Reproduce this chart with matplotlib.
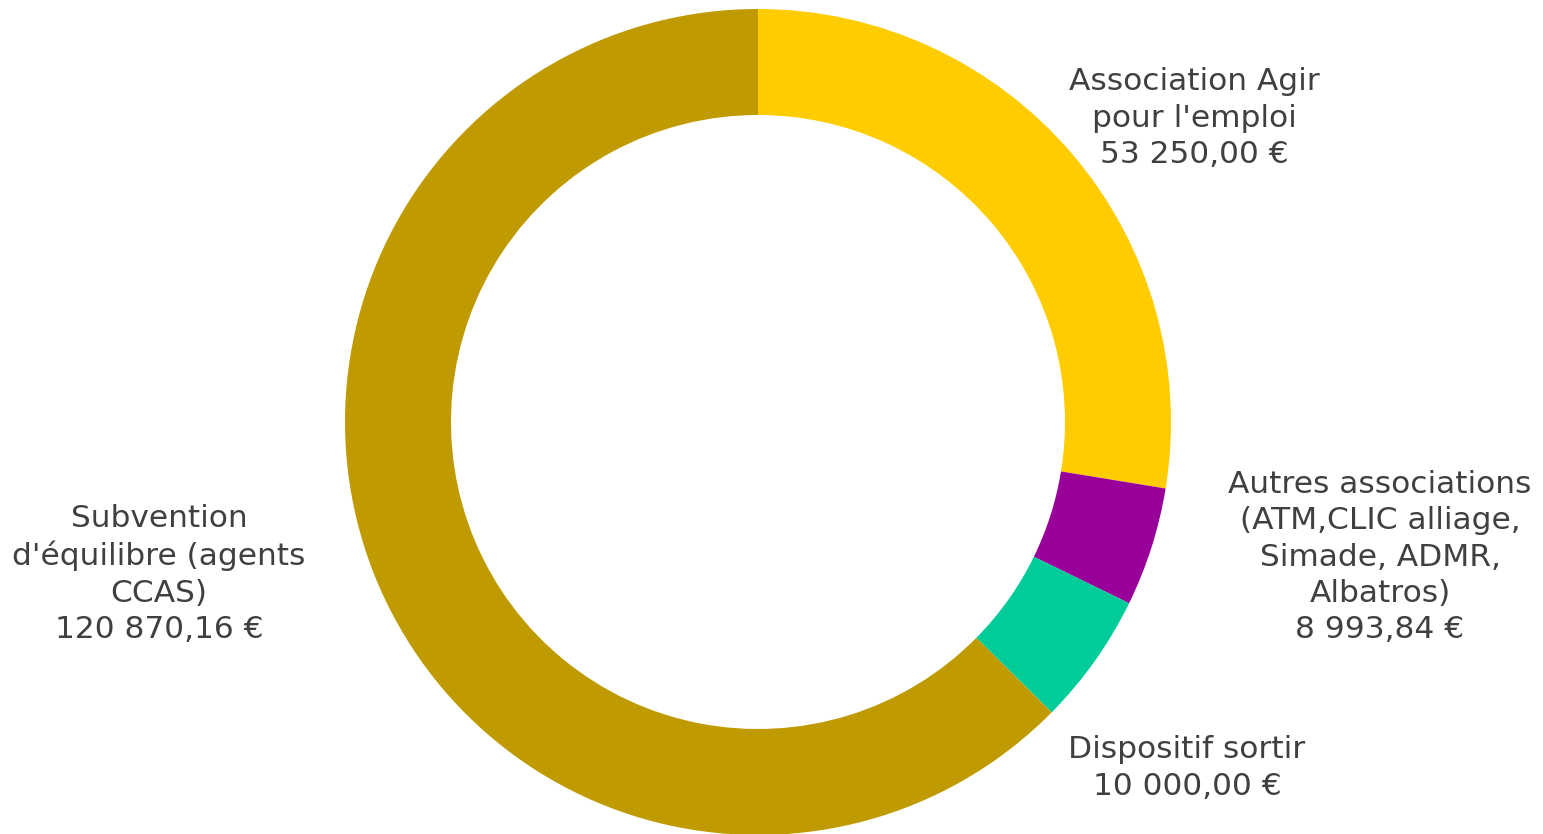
import numpy as np
import matplotlib.pyplot as plt

labels = ["Association Agir\npour l'emploi",
          "Autres associations\n(ATM,CLIC alliage,\nSimade, ADMR,\nAlbatros)",
          "Dispositif sortir",
          "Subvention\nd'équilibre (agents\nCCAS)"]
values = [53250.00, 8993.84, 10000.00, 120870.16]
colors = ["#FFCC00", "#990099", "#00CC99", "#BF9A00"]

# label anchor points (figure pixels, origin bottom-left)
label_pos = [(1194, 716), (1380, 277), (1187, 66), (159, 260)]


def fmt_eur(v):
    s = f"{v:,.2f}".replace(",", " ").replace(".", ",")
    return s + " €"


fig = plt.figure(figsize=(15.43, 8.34), dpi=100)
ax = fig.add_axes([0, 0, 1, 1])

ax.pie(values, colors=colors, startangle=90, counterclock=False,
       center=(758, 412), radius=413, frame=True,
       wedgeprops=dict(width=106, linewidth=0))
ax.set_xlim(0, 1543)
ax.set_ylim(0, 834)
ax.set_aspect("equal")
ax.axis("off")

for lab, v, (x, y) in zip(labels, values, label_pos):
    ax.text(x, y, lab + "\n" + fmt_eur(v), ha="center", va="center",
            fontsize=22.5, color="#404040", linespacing=1.31,
            family="DejaVu Sans")

fig.savefig("out.png", dpi=100)
